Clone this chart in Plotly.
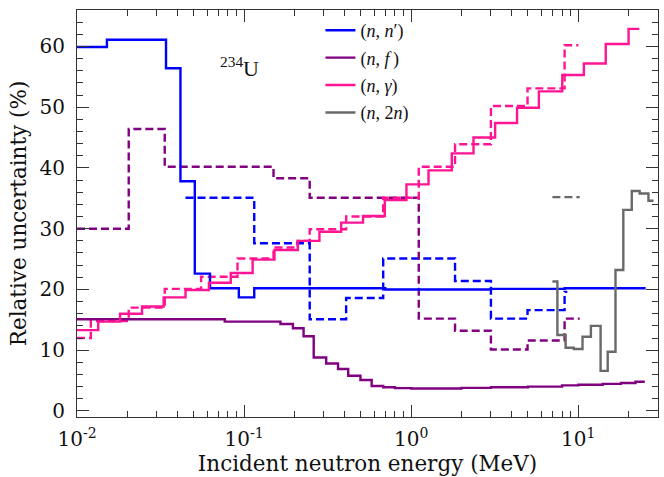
import plotly.graph_objects as go

# Relative uncertainties (%) of 234U cross sections, as energy-binned steps.
# Each set: bin edges (MeV) and one value per bin.
nn_edges = [0.01, 0.0151, 0.0341, 0.0416, 0.0507, 0.0625, 0.093, 0.115, 0.7, 3.0, 8.3, 25.3]
nn_vals = [59.9, 61.1, 56.4, 37.8, 22.6, 20.2, 18.7, 20.2, 20.0, 20.1, 20.2]

nn_alt_edges = [0.0446, 0.115, 0.247, 0.408, 0.68, 1.83, 3.0, 4.97, 8.28, 8.6]
nn_alt_vals = [35.1, 27.6, 15.1, 18.6, 25.1, 21.4, 15.2, 16.6, 19.6]

nf_edges = [0.01, 0.0766, 0.165, 0.196, 0.227, 0.261, 0.31, 0.365, 0.42, 0.497, 0.58,
            0.68, 0.8, 1.0, 2.0, 3.0, 5.0, 8.0, 10.0, 14.0, 18.0, 22.0, 25.0]
nf_vals = [15.1, 14.7, 14.3, 13.6, 12.3, 8.8, 7.8, 6.9, 5.8, 5.1, 4.1,
           3.9, 3.75, 3.7, 3.8, 3.9, 4.0, 4.2, 4.3, 4.45, 4.6, 4.8]

nf_alt_edges = [0.01, 0.0204, 0.0335, 0.150, 0.247, 1.11, 1.83, 3.0, 4.97, 8.28, 10.2]
nf_alt_vals = [30.0, 46.4, 40.2, 38.3, 35.1, 15.2, 13.2, 10.1, 11.6, 15.2]

ng_edges = [0.01, 0.0134, 0.0181, 0.0245, 0.033, 0.0446, 0.0616, 0.0832, 0.1125, 0.152,
            0.2096, 0.2824, 0.381, 0.515, 0.695, 0.937, 1.27, 1.75, 2.36, 3.18, 4.30,
            5.81, 8.02, 10.8, 14.6, 20.0, 23.2]
ng_vals = [13.3, 14.7, 16.0, 17.2, 18.7, 19.9, 21.1, 22.7, 24.9, 26.5, 28.0, 29.5, 31.0,
           32.1, 34.7, 37.3, 39.6, 42.4, 45.0, 47.4, 49.9, 52.6, 55.3, 57.2, 60.4, 62.9]

ng_alt_edges = [0.01, 0.0121, 0.0204, 0.0335, 0.0553, 0.0913, 0.150, 0.209, 0.247, 0.408,
                0.68, 1.11, 1.83, 3.0, 4.97, 8.28, 10.0]
ng_alt_vals = [12.0, 14.8, 17.0, 20.1, 22.1, 25.1, 26.9, 28.0, 29.9, 32.0, 35.1, 40.2,
               43.9, 50.2, 53.1, 60.2]

n2n_edges = [7.0, 7.5, 8.4, 9.4, 10.6, 11.9, 13.6, 15.0, 16.7, 18.6, 20.9, 23.3, 26.3, 28.2]
n2n_vals = [21.3, 12.5, 10.4, 10.2, 12.2, 14.0, 6.6, 9.75, 23.2, 33.1, 36.2, 35.8, 34.6]

n2n_alt_edges = [7.0, 10.2]
n2n_alt_vals = [35.2]

labels = ["(<i>n</i>,\u00a0<i>n</i>′)", "(<i>n</i>,\u00a0<i>f</i>\u2009)",
          "(<i>n</i>,\u00a0<i>γ</i>)", "(<i>n</i>,\u00a02<i>n</i>)"]
colors = ["#0000ff", "#800080", "#ff1493", "#696969"]

major_x = [0.01, 0.1, 1, 10]
major_x_text = ["10<sup>-2</sup>", "10<sup>-1</sup>", "10<sup>0</sup>", "10<sup>1</sup>"]
minor_x = [m * d for d in (0.01, 0.1, 1, 10) for m in range(2, 10) if m * d <= 30]

DASH = "8px,4px"
LW = 2.4

fig = go.Figure()


def add_step(edges, vals, color, name=None, dash=None):
    fig.add_trace(go.Scatter(
        x=edges, y=list(vals) + [vals[-1]], mode="lines", line_shape="hv",
        line=dict(color=color, width=LW, dash=dash),
        name=name or "", showlegend=name is not None,
        legendgroup=name or None,
    ))


# dashed sets first so the solid curves sit on top
add_step(nn_alt_edges, nn_alt_vals, colors[0], dash=DASH)
add_step(nf_alt_edges, nf_alt_vals, colors[1], dash=DASH)
add_step(ng_alt_edges, ng_alt_vals, colors[2], dash=DASH)
add_step(n2n_alt_edges, n2n_alt_vals, colors[3], dash=DASH)

add_step(nn_edges, nn_vals, colors[0], labels[0])
add_step(nf_edges, nf_vals, colors[1], labels[1])
add_step(ng_edges, ng_vals, colors[2], labels[2])
add_step(n2n_edges, n2n_vals, colors[3], labels[3])

serif = "DejaVu Serif"
axis_common = dict(
    showline=True, linecolor="#333", linewidth=1.2, mirror="allticks",
    ticks="inside", ticklen=12, tickwidth=1.1, tickcolor="#333",
    showgrid=False, zeroline=False,
    tickfont=dict(family=serif, size=20, color="#111"),
)

fig.update_xaxes(
    type="log", range=[-2, 1.4771],
    tickmode="array", tickvals=major_x, ticktext=major_x_text, ticklabelstandoff=4,
    minor=dict(tickmode="array", tickvals=minor_x, ticks="inside", ticklen=6,
               tickwidth=1, tickcolor="#333", showgrid=False),
    title=dict(text="Incident neutron energy (MeV)", font=dict(family=serif, size=21.5, color="#111"),
               standoff=4),
    **axis_common,
)
fig.update_yaxes(
    range=[-1, 66], tickmode="linear", tick0=0, dtick=10, ticklabelstandoff=7,
    minor=dict(dtick=2, ticks="inside", ticklen=6, tickwidth=1, tickcolor="#333", showgrid=False),
    title=dict(text="Relative uncertainty (%)", font=dict(family=serif, size=21.5, color="#111"),
               standoff=6),
    **axis_common,
)

fig.add_annotation(
    xref="paper", yref="paper", x=0.243, y=0.9, text="<sup>234</sup>U",
    showarrow=False, font=dict(family="Liberation Serif", size=22, color="#111"),
)

fig.update_layout(
    width=664, height=477,
    margin=dict(l=77, r=6, t=10, b=60),
    plot_bgcolor="white", paper_bgcolor="white",
    legend=dict(x=0.419, y=0.995, xanchor="left", yanchor="top",
                bgcolor="rgba(0,0,0,0)", traceorder="grouped", tracegroupgap=1,
                font=dict(family="Liberation Serif", size=18, color="#111")),
)

fig.write_html("out.html")
